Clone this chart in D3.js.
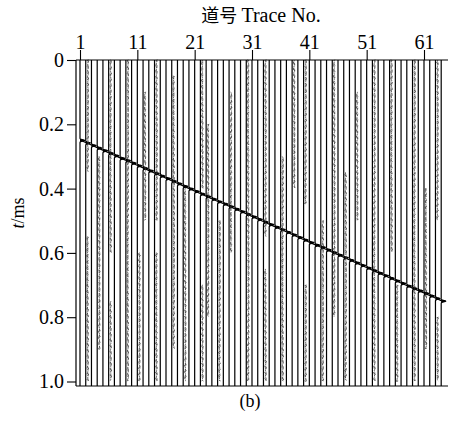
<!DOCTYPE html>
<html>
<head>
<meta charset="utf-8">
<script src="https://cdn.jsdelivr.net/npm/d3@7"></script>
<style>
  body { margin: 0; background: #fff; }
  text { font-family: "Liberation Serif", "Times New Roman", Times, "DejaVu Serif", serif; fill: #000; }
</style>
</head>
<body>
<div id="chart"></div>
<script>
// trace numbers and top tick labels
const traces = d3.range(1, 65);
const traceTicks = [1, 11, 21, 31, 41, 51, 61];
const timeTicks = [0, 0.2, 0.4, 0.6, 0.8, 1.0];

// arrival time (ms) of the dipping event on each trace
const arrivals = [
  0.250, 0.258, 0.266, 0.274, 0.282, 0.290, 0.298, 0.306, 0.313, 0.321,
  0.329, 0.337, 0.345, 0.353, 0.361, 0.369, 0.377, 0.385, 0.393, 0.401,
  0.409, 0.417, 0.425, 0.433, 0.441, 0.448, 0.456, 0.464, 0.472, 0.480,
  0.488, 0.496, 0.504, 0.512, 0.520, 0.528, 0.536, 0.544, 0.552, 0.560,
  0.568, 0.576, 0.583, 0.591, 0.599, 0.607, 0.615, 0.623, 0.631, 0.639,
  0.647, 0.655, 0.663, 0.671, 0.679, 0.687, 0.695, 0.703, 0.711, 0.718,
  0.726, 0.734, 0.742, 0.750
];

// traces with visible noise wiggles: [trace, from t, to t]
const noiseZones = [
  [2, 0.0, 0.35], [2, 0.55, 1.0], [4, 0.3, 0.9], [6, 0.0, 0.6], [6, 0.75, 1.0],
  [9, 0.0, 1.0], [11, 0.6, 1.0], [12, 0.1, 0.5], [14, 0.0, 0.5], [14, 0.6, 1.0],
  [17, 0.05, 0.9], [19, 0.4, 1.0], [22, 0.0, 0.4], [22, 0.7, 1.0], [23, 0.2, 0.8],
  [25, 0.5, 1.0], [27, 0.1, 0.6], [30, 0.0, 1.0], [33, 0.0, 0.55], [33, 0.65, 1.0],
  [36, 0.3, 1.0], [38, 0.0, 0.4], [40, 0.0, 0.45], [40, 0.7, 1.0], [43, 0.5, 1.0],
  [45, 0.0, 0.8], [47, 0.35, 1.0], [49, 0.1, 0.5], [52, 0.0, 1.0], [55, 0.0, 0.6],
  [56, 0.7, 1.0], [59, 0.0, 1.0], [61, 0.4, 0.9], [63, 0.0, 0.5], [63, 0.8, 1.0]
];

const width = 452, height = 425;
const serif = '"Liberation Serif", "Times New Roman", Times, "DejaVu Serif", serif';

const svg = d3.select('#chart').append('svg')
  .attr('width', width)
  .attr('height', height);

const x = d3.scaleLinear([1, 61], [80, 424]);
const y = d3.scaleLinear([0, 1], [60, 381.5]);
const tMax = 1.014;
const xLeft = 76, xRight = 448;

// --- traces ---
const tr = svg.append('g');
const dt = 0.0005;
const samples = d3.range(0, tMax + dt / 2, dt);

// event pulse, shaded to the right of each trace
const pulse = (s) => Math.exp(-((s / 0.003) ** 2));
const amp = 4.5;

traces.forEach((k, i) => {
  const x0 = x(k);
  const t0 = arrivals[i];

  const lobe = samples.filter(t => Math.abs(t - t0) < 0.008);
  tr.append('path')
    .attr('d', d3.area()
      .x0(x0)
      .x1(t => x0 + amp * pulse(t - t0))
      .y(t => y(t))(lobe))
    .attr('fill', '#000');

  tr.append('path')
    .attr('d', d3.line()
      .x(t => x0 + amp * pulse(t - t0))
      .y(t => y(t))(samples))
    .attr('fill', 'none')
    .attr('stroke', '#000')
    .attr('stroke-width', 1.2);
});

// event line joining the pulses
tr.append('path')
  .attr('d', d3.line()
    .x(d => x(d[0]) + 1)
    .y(d => y(d[1]))(traces.map((k, i) => [k, arrivals[i]])))
  .attr('fill', 'none')
  .attr('stroke', '#000')
  .attr('stroke-width', 1.2);

// noise wiggles drawn beside the trace
noiseZones.forEach(([k, a, b]) => {
  const x0 = x(k) + 2;
  const ts = d3.range(a, Math.min(b, tMax), 0.002);
  tr.append('path')
    .attr('d', d3.line()
      .x(t => x0 + 1.1 * Math.sin(t * 1400 + k))
      .y(t => y(t))(ts))
    .attr('fill', 'none')
    .attr('stroke', '#333')
    .attr('stroke-width', 0.8)
    .attr('stroke-dasharray', '2,1.5');
});

// --- frame and axes ---
[y(0), y(tMax)].forEach(yy => {
  svg.append('line')
    .attr('x1', xLeft).attr('x2', xRight)
    .attr('y1', yy).attr('y2', yy)
    .attr('stroke', '#000').attr('stroke-width', 1.2);
});
svg.append('line')
  .attr('x1', xLeft).attr('x2', xLeft)
  .attr('y1', y(0)).attr('y2', y(tMax))
  .attr('stroke', '#000').attr('stroke-width', 1.2);

const axisTop = d3.axisTop(x)
  .tickValues(traceTicks)
  .tickFormat(d3.format('d'))
  .tickSize(10)
  .tickPadding(1);
svg.append('g')
  .attr('transform', `translate(0,${y(0)})`)
  .call(axisTop)
  .attr('font-family', serif)
  .call(g => g.select('.domain').remove())
  .call(g => g.selectAll('line').attr('stroke-width', 1.1))
  .call(g => g.selectAll('text').style('font-family', serif).style('font-size', '20px'));

const axisLeft = d3.axisLeft(y)
  .tickValues(timeTicks)
  .tickFormat(d => d === 0 ? '0' : d3.format('.1f')(d))
  .tickSize(9)
  .tickPadding(3);
svg.append('g')
  .attr('transform', `translate(${xLeft},0)`)
  .call(axisLeft)
  .attr('font-family', serif)
  .call(g => g.select('.domain').remove())
  .call(g => g.selectAll('line').attr('stroke-width', 1.1))
  .call(g => g.selectAll('text').style('font-family', serif).style('font-size', '20px'));

// --- labels ---
const title = svg.append('text')
  .attr('x', 261)
  .attr('y', 22)
  .attr('text-anchor', 'middle')
  .style('font-size', '20px');
title.append('tspan').text('道号 ')
  .style('font-family', '"Noto Sans CJK SC", sans-serif')
  .style('font-size', '18px');
title.append('tspan').text('Trace No.');

const ylab = svg.append('text')
  .attr('transform', 'translate(24,213)rotate(-90)')
  .attr('text-anchor', 'middle')
  .style('font-size', '18px');
ylab.append('tspan').text('t').style('font-style', 'italic');
ylab.append('tspan').text('/ms');

svg.append('text')
  .attr('x', 250)
  .attr('y', 407)
  .attr('text-anchor', 'middle')
  .style('font-size', '18px')
  .text('(b)');
</script>
</body>
</html>
